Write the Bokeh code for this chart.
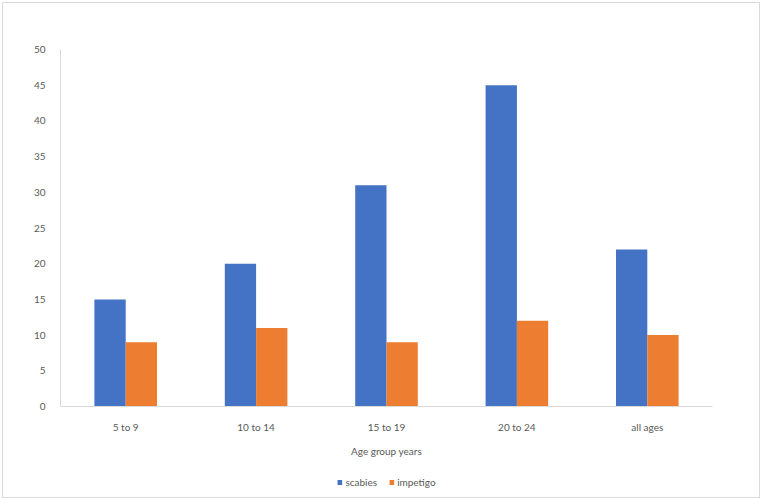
from bokeh.plotting import figure
from bokeh.layouts import column
from bokeh.models import FactorRange, Range1d, FixedTicker, Legend, LegendItem, ColumnDataSource
from bokeh.transform import dodge
from bokeh.embed import file_html
from bokeh.resources import INLINE

categories = ["5 to 9", "10 to 14", "15 to 19", "20 to 24", "all ages"]
scabies = [15, 20, 31, 45, 22]
impetigo = [9, 11, 9, 12, 10]
y_ticks = [0, 5, 10, 15, 20, 25, 30, 35, 40, 45, 50]
series_names = ["scabies", "impetigo"]
series_colors = ["#4472C4", "#ED7D31"]

src = ColumnDataSource(dict(cat=categories, scabies=scabies, impetigo=impetigo))

FONT = "Lato"
TXT = "#595959"
FS = "10px"

p = figure(x_range=FactorRange(*categories), y_range=Range1d(0, 50),
           width=756, height=464, output_backend="svg", toolbar_location=None,
           min_border_left=57, min_border_right=47, min_border_top=46, min_border_bottom=61)
p.outline_line_color = None
p.grid.grid_line_color = None
p.x_range.range_padding = 0

r1 = p.vbar(x=dodge("cat", -0.12, range=p.x_range), top="scabies", width=0.24,
            source=src, fill_color=series_colors[0], line_color=None)
r2 = p.vbar(x=dodge("cat", 0.12, range=p.x_range), top="impetigo", width=0.24,
            source=src, fill_color=series_colors[1], line_color=None)

for ax in (p.xaxis[0], p.yaxis[0]):
    ax.axis_line_color = "#d9d9d9"
    ax.major_tick_line_color = None
    ax.minor_tick_line_color = None
    ax.major_label_text_font = FONT
    ax.major_label_text_font_size = FS
    ax.major_label_text_color = TXT

p.yaxis.ticker = FixedTicker(ticks=y_ticks)
p.yaxis.major_label_standoff = 9
p.xaxis.major_label_standoff = 8
p.xaxis.axis_label = "Age group years"
p.xaxis.axis_label_text_font = FONT
p.xaxis.axis_label_text_font_size = FS
p.xaxis.axis_label_text_font_style = "normal"
p.xaxis.axis_label_text_color = TXT
p.xaxis.axis_label_standoff = 9

# legend strip below the chart (its own bars lie outside its visible y range)
lg = figure(width=756, height=30, output_backend="svg", toolbar_location=None,
            min_border=0, x_range=FactorRange(*categories), y_range=Range1d(1000, 1001))
lg.axis.visible = False
lg.grid.visible = False
lg.outline_line_color = None
items = []
for name, col in zip(series_names, series_colors):
    rr = lg.vbar(x="cat", top=name, width=0.2, source=src,
                 fill_color=col, line_color=None)
    items.append(LegendItem(label=name, renderers=[rr]))

legend = Legend(items=items, orientation="horizontal", location="center")
legend.border_line_color = None
legend.background_fill_alpha = 0
legend.label_text_font = FONT
legend.label_text_font_size = FS
legend.label_text_color = TXT
legend.glyph_width = 6
legend.glyph_height = 6
legend.spacing = 11
legend.label_standoff = 3
legend.padding = 0
legend.margin = 0
lg.add_layout(legend, "center")

layout = column(p, lg, spacing=0,
                styles={"border": "1px solid #d9d9d9", "box-sizing": "border-box", "margin": "2px"})

open("out.html", "w").write(file_html(layout, INLINE))
